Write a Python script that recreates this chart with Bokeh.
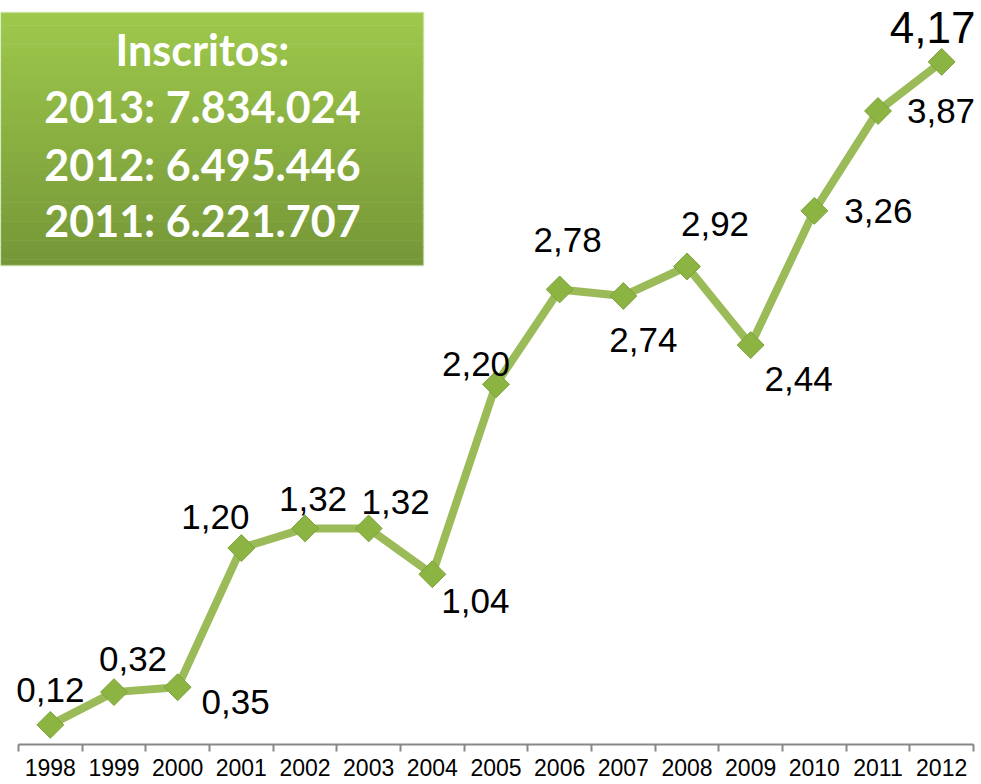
import math
from bokeh.plotting import figure
from bokeh.models import (Range1d, LinearAxis, FixedTicker, ColumnDataSource,
                          LabelSet, BoxAnnotation, Label)
from bokeh.core.properties import value
from bokeh.embed import file_html
from bokeh.resources import INLINE

# ---- data ----
years = [1998, 1999, 2000, 2001, 2002, 2003, 2004, 2005, 2006, 2007,
         2008, 2009, 2010, 2011, 2012]
values = [0.12, 0.32, 0.35, 1.20, 1.32, 1.32, 1.04, 2.20, 2.78, 2.74,
          2.92, 2.44, 3.26, 3.87, 4.17]
tick_labels = ["1998", "1999", "2000", "2001", "2002", "2003", "2004", "2005",
               "2006", "2007", "2008", "2009", "2010", "2011", "2012"]
box_lines = ["Inscritos:", "2013: 7.834.024", "2012: 6.495.446", "2011: 6.221.707"]

# ---- label placement (pixels; dy positive = downward) ----
label_dx = [0, 19, 58, -26, 8, 27, 43, -20, 8, 20, 28, 48, 64, 63, -9]
label_dy = [-35, -33, 15, -31, -29, -26, 27, -20, -49, 44, -42, 34, 0, 0, -34]
label_size = ["35px"] * 14 + ["44px"]

W, H = 981, 784
AXIS_H = 40
FW, FH = W, H - AXIS_H
PPX = 955 / 15.0                      # pixels per category
X0 = years[0] - 0.5 - 18 / PPX
X1 = X0 + FW / PPX
Y0 = 0.0
Y1 = FH / 163.7

p = figure(width=W, height=H,
           x_range=Range1d(X0, X1), y_range=Range1d(Y0, Y1),
           x_axis_location=None, y_axis_location=None,
           toolbar_location=None, output_backend="svg",
           min_border_left=0, min_border_right=0,
           min_border_top=0, min_border_bottom=AXIS_H)
p.outline_line_color = None
p.background_fill_color = "white"
p.border_fill_color = "white"
for g in p.grid:
    g.visible = False


def fx(px):
    return X0 + px * (X1 - X0) / FW


def fy(py):
    return Y1 - py * (Y1 - Y0) / FH


# ---- x axis: labels centred, ticks at category boundaries ----
bounds = [y - 0.5 for y in years] + [years[-1] + 0.5]
ax = LinearAxis(ticker=FixedTicker(ticks=years, minor_ticks=bounds),
                bounds=(bounds[0], bounds[-1]),
                major_label_overrides={y: t for y, t in zip(years, tick_labels)})
ax.major_tick_out = 0
ax.major_tick_in = 0
ax.minor_tick_out = 7
ax.minor_tick_in = 0
ax.minor_tick_line_color = "#878787"
ax.minor_tick_line_width = 2
ax.axis_line_color = "#878787"
ax.axis_line_width = 2
ax.major_label_text_font = "Liberation Sans"
ax.major_label_text_font_size = "23px"
ax.major_label_text_color = "black"
ax.major_label_standoff = 7
p.add_layout(ax, "below")

# ---- info box with vertical gradient ----
top_c = (158, 201, 76)
bot_c = (117, 150, 55)
bl, br, bt, bb = 0, 423, 12, 265
N = 40
for i in range(N):
    t = (i + 0.5) / N
    c = tuple(int(round(top_c[k] + (bot_c[k] - top_c[k]) * t)) for k in range(3))
    y_top = bt + (bb - bt) * i / N
    y_bot = min(bt + (bb - bt) * (i + 1) / N + 0.6, bb)
    p.add_layout(BoxAnnotation(left=fx(bl), right=fx(br), top=fy(y_top), bottom=fy(y_bot),
                               fill_color="#%02x%02x%02x" % c, fill_alpha=1.0,
                               line_color=None, level="underlay"))
p.add_layout(BoxAnnotation(left=fx(bl), right=fx(br), top=fy(bt), bottom=fy(bb),
                           fill_alpha=0, line_color="#bcd98f", line_width=2, level="underlay"))

line_y = [49, 106, 164, 220]
for txt, py in zip(box_lines, line_y):
    p.add_layout(Label(x=fx(202), y=fy(py), text=txt, text_align="center",
                       text_baseline="middle", text_color="white",
                       text_font="Lato", text_font_style="bold",
                       text_font_size="43px"))

# ---- series ----
src = ColumnDataSource(dict(
    x=years, y=values,
    text=[("%.2f" % v).replace(".", ",") for v in values],
    dx=label_dx, dy=[-d for d in label_dy], fs=label_size))

p.line("x", "y", source=src, line_width=8, line_color="#9BBB59", line_join="round")
p.scatter("x", "y", source=src, marker="square", angle=math.pi / 4, size=19,
          fill_color="#8CB443", line_color="#7DA23A", line_width=1)

p.add_layout(LabelSet(x="x", y="y", text="text", source=src,
                      x_offset="dx", y_offset="dy",
                      text_align="center", text_baseline="middle",
                      text_font=value("Liberation Sans"), text_font_size="fs",
                      text_color="black"))

open("out.html", "w").write(file_html(p, INLINE))
